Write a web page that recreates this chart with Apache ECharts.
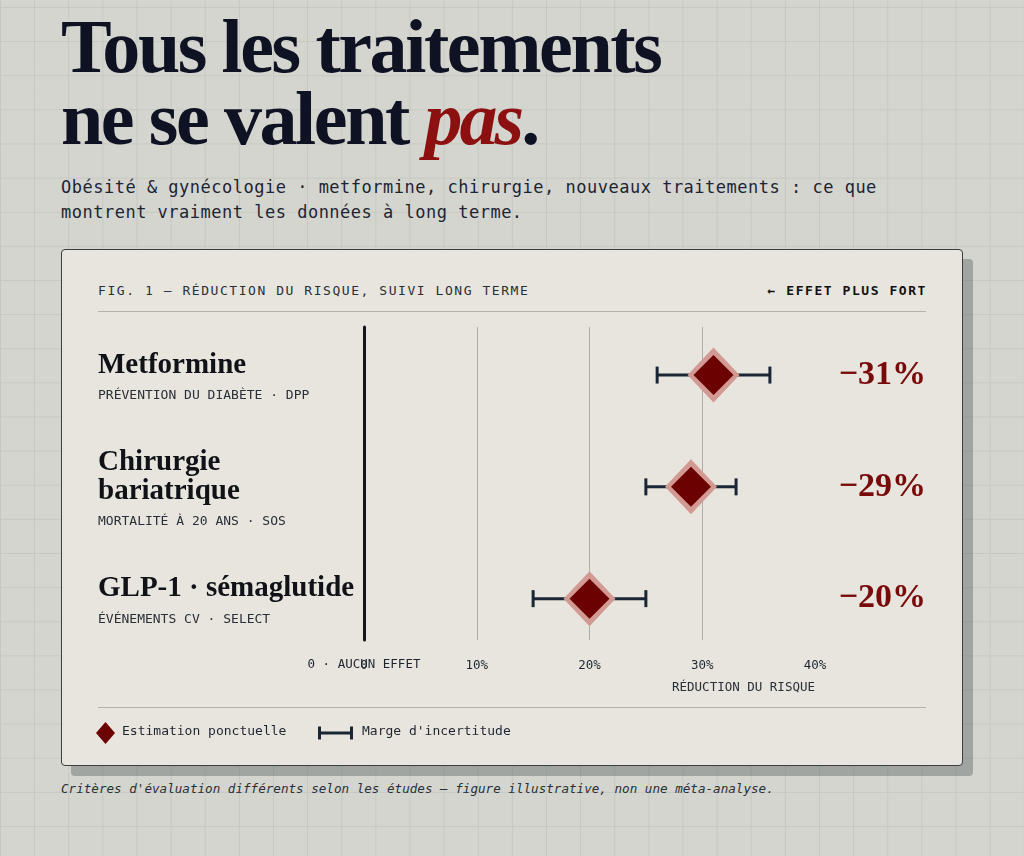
<!DOCTYPE html>
<html>
<head>
<meta charset="utf-8">
<script src="https://cdn.jsdelivr.net/npm/echarts@6/dist/echarts.min.js"></script>
<style>
  html, body { margin: 0; padding: 0; }
  body {
    width: 1024px; height: 856px; position: relative; overflow: hidden;
    background-color: #d4d5cf;
    background-image: linear-gradient(#c6c8c2 1px, transparent 1px),
                      linear-gradient(90deg, #c6c8c2 1px, transparent 1px);
    background-size: 34.13px 34.13px;
    background-position: 0 7px;
  }
  .abs { position: absolute; white-space: nowrap; }
  .title { left: 61px; font-family: 'Liberation Serif', serif; font-weight: bold;
           font-size: 76px; line-height: 72px; letter-spacing: -2.4px; color: #0f1223; }
  .title em { color: #8c1010; letter-spacing: -3px; }
  .sub { left: 61px; top: 175px; font-family: 'DejaVu Sans Mono', monospace; font-size: 17px;
         line-height: 25px; letter-spacing: 0.5px; color: #1d2433; }
  .card { left: 61px; top: 249px; width: 902px; height: 517px; box-sizing: border-box;
          background: #e7e5de; border: 1.5px solid #3b3e42; border-radius: 4px;
          box-shadow: 10px 10px 0 rgba(75, 88, 88, 0.38); }
  .head { top: 283px; font-family: 'DejaVu Sans Mono', monospace; font-size: 13px;
          line-height: 16px; letter-spacing: 1.55px; color: #2a2f38; }
  .rule { left: 98px; width: 828px; height: 1px; background: #b3b2ab; }
  .foot { left: 61px; top: 781px; font-family: 'DejaVu Sans Mono', monospace; font-style: italic;
          font-size: 12.6px; line-height: 16px; color: #2a2f38; }
  #chart { position: absolute; left: 0; top: 0; width: 1024px; height: 856px; }
</style>
</head>
<body>
<div class="abs title" style="top:10px">Tous les traitements</div>
<div class="abs title" style="top:82px">ne se valent <em>pas</em>.</div>
<div class="abs sub">Obésité &amp; gynécologie · metformine, chirurgie, nouveaux traitements : ce que<br>montrent vraiment les données à long terme.</div>
<div class="abs card"></div>
<div class="abs head" style="left:98px">FIG. 1 — RÉDUCTION DU RISQUE, SUIVI LONG TERME</div>
<div class="abs head" style="right:97px;font-weight:bold;color:#111">← EFFET PLUS FORT</div>
<div class="abs rule" style="top:311px"></div>
<div class="abs rule" style="top:707px"></div>
<div class="abs foot">Critères d'évaluation différents selon les études — figure illustrative, non une méta-analyse.</div>
<div id="chart"></div>
<script>
// données
var treatments = ['Metformine', 'Chirurgie\nbariatrique', 'GLP-1 · sémaglutide'];
var studies = ['PRÉVENTION DU DIABÈTE · DPP', 'MORTALITÉ À 20 ANS · SOS', 'ÉVÉNEMENTS CV · SELECT'];
var estimate = [31, 29, 20];
var lower = [26, 25, 15];
var upper = [36, 33, 25];
var xTicks = [0, 10, 20, 30, 40];

var rows = [0, 1, 2];
var points = rows.map(function (i) { return [estimate[i], i]; });
var bars = rows.map(function (i) { return [lower[i], upper[i], i]; });

var mono = 'DejaVu Sans Mono';
var serif = 'Liberation Serif';

var myChart = echarts.init(document.getElementById('chart'), null, { renderer: 'canvas' });

var option = {
    backgroundColor: 'transparent',
    animation: false,
    grid: { left: 364, right: 209, top: 327, bottom: 216 },
    xAxis: {
        type: 'value',
        min: xTicks[0],
        max: xTicks[xTicks.length - 1],
        interval: 10,
        axisLine: { show: false },
        axisTick: { show: false },
        splitLine: {
            show: true, showMinLine: false, showMaxLine: false,
            lineStyle: { color: '#afafa8', width: 1 }
        },
        axisLabel: {
            margin: 19,
            fontFamily: mono, fontSize: 12.5, color: '#1f2530',
            formatter: function (v) { return v === 0 ? '0' : v + '%'; }
        }
    },
    yAxis: [
        {
            type: 'value',
            inverse: true,
            min: -0.43,
            max: 2.37,
            axisLine: { show: true, lineStyle: { color: '#14161c', width: 3 } },
            axisTick: { show: false },
            splitLine: { show: false },
            axisLabel: {
                customValues: rows,
                align: 'left',
                margin: 266,
                padding: [12, 0, 0, 0],
                formatter: function (v) {
                    var i = Math.round(v);
                    var lines = treatments[i].split('\n').map(function (s) { return '{t|' + s + '}'; });
                    return lines.join('\n') + '\n{s|' + studies[i] + '}';
                },
                rich: {
                    t: { fontFamily: serif, fontWeight: 'bold', fontSize: 29, lineHeight: 29, color: '#101217' },
                    s: { fontFamily: mono, fontSize: 13, lineHeight: 32, color: '#2a2f38' }
                }
            }
        },
        {
            type: 'value',
            position: 'right',
            inverse: true,
            min: -0.43,
            max: 2.37,
            axisLine: { show: false },
            axisTick: { show: false },
            splitLine: { show: false },
            axisLabel: {
                customValues: rows,
                align: 'right',
                margin: 111,
                fontFamily: serif, fontWeight: 'bold', fontSize: 34, color: '#780a0a',
                formatter: function (v) { return '−' + estimate[Math.round(v)] + '%'; }
            }
        }
    ],
    series: [
        {
            name: "Marge d'incertitude",
            type: 'custom',
            z: 2,
            silent: true,
            encode: { x: [0, 1], y: 2 },
            data: bars,
            renderItem: function (params, api) {
                var a = api.coord([api.value(0), api.value(2)]);
                var b = api.coord([api.value(1), api.value(2)]);
                var cap = 8.5;
                var st = { stroke: '#1a2633', lineWidth: 3 };
                return {
                    type: 'group',
                    children: [
                        { type: 'line', shape: { x1: a[0], y1: a[1], x2: b[0], y2: b[1] }, style: st },
                        { type: 'line', shape: { x1: a[0], y1: a[1] - cap, x2: a[0], y2: a[1] + cap }, style: st },
                        { type: 'line', shape: { x1: b[0], y1: b[1] - cap, x2: b[0], y2: b[1] + cap }, style: st }
                    ]
                };
            }
        },
        {
            name: 'halo',
            type: 'scatter',
            z: 3,
            silent: true,
            symbol: 'diamond',
            symbolSize: [52, 55],
            itemStyle: { color: '#d29a92', opacity: 1 },
            data: points
        },
        {
            name: 'Estimation ponctuelle',
            type: 'scatter',
            z: 4,
            silent: true,
            symbol: 'diamond',
            symbolSize: [40, 40],
            itemStyle: { color: '#6b0101', opacity: 1 },
            data: points
        }
    ],
    graphic: [
        {
            type: 'text', silent: true, x: 364, y: 665,
            style: { text: '0 · AUCUN EFFET', align: 'center', verticalAlign: 'middle',
                     font: '12.5px "DejaVu Sans Mono"', fill: '#1f2530' }
        },
        {
            type: 'text', silent: true, x: 815, y: 688,
            style: { text: 'RÉDUCTION DU RISQUE', align: 'right', verticalAlign: 'middle',
                     font: '12.5px "DejaVu Sans Mono"', fill: '#2a2f38' }
        },
        {
            type: 'polygon', silent: true,
            shape: { points: [[105.5, 722], [115, 733], [105.5, 744], [96, 733]] },
            style: { fill: '#6b0101' }
        },
        {
            type: 'text', silent: true, x: 122, y: 732,
            style: { text: 'Estimation ponctuelle', align: 'left', verticalAlign: 'middle',
                     font: '13px "DejaVu Sans Mono"', fill: '#1f2530' }
        },
        {
            type: 'group', silent: true,
            children: [
                { type: 'line', shape: { x1: 318, y1: 733, x2: 353, y2: 733 }, style: { stroke: '#1a2633', lineWidth: 3 } },
                { type: 'line', shape: { x1: 319.5, y1: 726.5, x2: 319.5, y2: 739.5 }, style: { stroke: '#1a2633', lineWidth: 3 } },
                { type: 'line', shape: { x1: 351.5, y1: 726.5, x2: 351.5, y2: 739.5 }, style: { stroke: '#1a2633', lineWidth: 3 } }
            ]
        },
        {
            type: 'text', silent: true, x: 362, y: 732,
            style: { text: "Marge d'incertitude", align: 'left', verticalAlign: 'middle',
                     font: '13px "DejaVu Sans Mono"', fill: '#1f2530' }
        }
    ]
};

if (option && typeof option === 'object') {
    myChart.setOption(option, true);
}
</script>
</body>
</html>
